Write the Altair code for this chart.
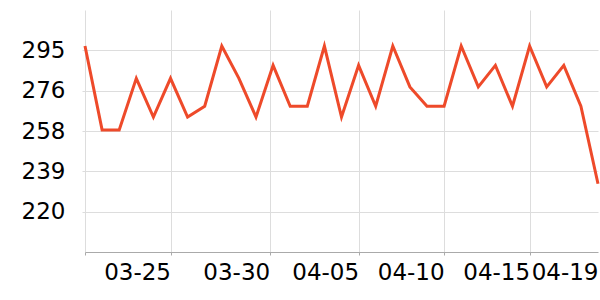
import altair as alt
import pandas as pd
from datetime import datetime, timezone, timedelta

start = datetime(2024, 3, 20, tzinfo=timezone.utc)
values = [297, 258, 258, 282, 264, 282, 264, 269, 297, 282,
          264, 288, 269, 269, 297, 264, 288, 269, 297, 278,
          269, 269, 297, 278, 288, 269, 297, 278, 288, 269, 233]
dates = [(start + timedelta(days=i)).strftime("%Y-%m-%d") for i in range(len(values))]

# tick positions (day offsets from first date) and their labels
tick_offsets = [0, 5, 10.8, 16, 21, 26, 30]
tick_labels = ["", "03-25", "03-30", "04-05", "04-10", "04-15", "04-19"]
y_ticks = [220, 238.75, 257.5, 276.25, 295]

df = pd.DataFrame({"date": dates, "value": values})

def ms(off):
    return int((start + timedelta(days=off)).timestamp() * 1000)

tick_ms = [ms(o) for o in tick_offsets]
ms_arr = "[" + ",".join(str(t) for t in tick_ms) + "]"
lab_arr = "[" + ",".join(f"'{l}'" for l in tick_labels) + "]"
last_ms = tick_ms[-1]

line = alt.Chart(df).mark_line(color="#ee4a2a", strokeWidth=3).encode(
    x=alt.X("date:T", scale=alt.Scale(type="utc", nice=False), title=None,
            axis=alt.Axis(values=tick_ms,
                          labelExpr=f"{lab_arr}[indexof({ms_arr}, +datum.value)]",
                          labelAlign="right", labelBaseline="top",
                          labelFontSize=23, labelColor="#000", labelFont="DejaVu Sans",
                          labelPadding=6, tickSize=3, tickColor="#aaa",
                          domainColor="#aaa", gridColor="#ddd",
                          gridOpacity={"condition": {"test": f"datum.value >= {last_ms}", "value": 0}, "value": 1},
                          tickOpacity={"condition": {"test": f"datum.value >= {last_ms}", "value": 0}, "value": 1},
                          labelOverlap=False, labelFlush=False)),
    y=alt.Y("value:Q", scale=alt.Scale(domain=[201.25, 313.75], nice=False, zero=False), title=None,
            axis=alt.Axis(values=y_ticks, format=".0f", labelFontSize=23, labelColor="#000",
                          labelFont="DejaVu Sans", domain=False, tickSize=3, tickColor="#ddd",
                          labelPadding=17, gridColor="#ddd", labelOverlap=False)),
).properties(
    width=513, height=242, autosize="none",
    padding={"left": 85, "top": 10, "right": 2, "bottom": 48},
).configure_view(stroke=None)

line.save("out.html", embed_options={"renderer": "svg", "actions": False})
